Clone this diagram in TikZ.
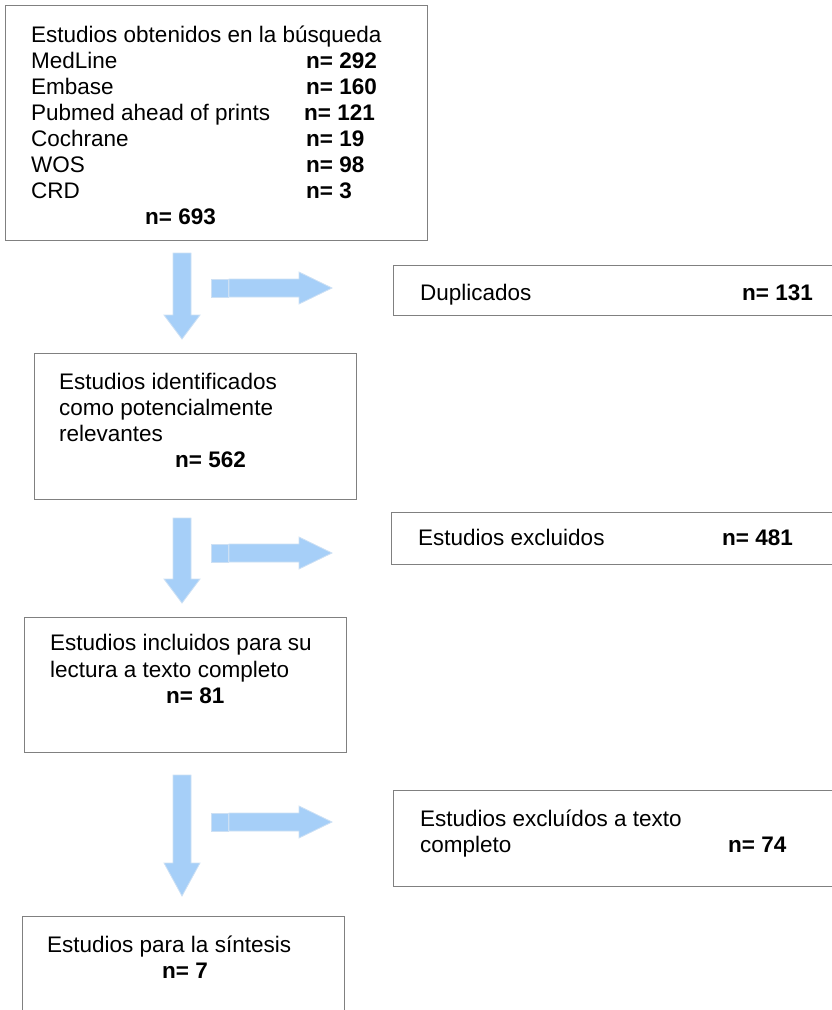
\documentclass[tikz,border=0pt]{standalone}
\usepackage{fontspec}
\setmainfont{Liberation Sans}

\definecolor{boxgray}{RGB}{128,128,128}
\definecolor{arrowblue}{RGB}{166,207,248}
\definecolor{arrowedge}{RGB}{205,224,244}

\newcommand\textstack[1]{\begin{tabular}[t]{@{}l@{}}#1\end{tabular}}
\newcommand\nval[1]{\textbf{n= #1}}

\begin{document}
\begin{tikzpicture}[
  x=1pt,y=-1pt,
  every node/.style={font=\fontsize{22.5}{26}\selectfont,inner sep=0pt},
  flowbox/.style={draw=boxgray,line width=1.4pt,fill=white,anchor=north west},
  txt/.style={anchor=base west},
  blockarrow/.style={fill=arrowblue,draw=arrowedge,line width=0.8pt},
  ]

  \useasboundingbox (0,0) rectangle (832,1010);
  \clip (0,0) rectangle (832,1010);

  % boxes of the main column
  \node [flowbox,minimum width=422,minimum height=235] (search-box) at (5,5) {};
  \node [flowbox,minimum width=322,minimum height=146] (ident-box) at (34,353) {};
  \node [flowbox,minimum width=322,minimum height=135] (fulltext-box) at (24,617) {};
  \node [flowbox,minimum width=322,minimum height=150] (synth-box) at (22,916) {};

  % boxes of excluded studies
  \node [flowbox,minimum width=480,minimum height=50] (dup-box) at (393,265) {};
  \node [flowbox,minimum width=480,minimum height=52] (excl-box) at (391,512) {};
  \node [flowbox,minimum width=480,minimum height=96] (excl-full-box) at (393,790) {};

  \node [txt] (search-text) at (31,42) {%
    \begin{tabular}[t]{@{}p{275pt}@{}l@{}}
      \multicolumn{2}{@{}l@{}}{Estudios obtenidos en la búsqueda}\\
      MedLine & \nval{292}\\
      Embase & \nval{160}\\
      Pubmed ahead of prints & \hspace{-2pt}\nval{121}\\
      Cochrane & \nval{19}\\
      WOS & \nval{98}\\
      CRD & \nval{3}\\
      \multicolumn{2}{@{}l@{}}{\hspace{114pt}\nval{693}}
    \end{tabular}};

  \node [txt] (ident-text) at (59,389) {\textstack{Estudios identificados\\
    como potencialmente\\ relevantes\\ \hspace{116pt}\nval{562}}};
  \node [txt] (fulltext-text) at (50,650) {\textstack{Estudios incluidos para su\\[1pt]
    lectura a texto completo\\ \hspace{116pt}\nval{81}}};
  \node [txt] (synth-text) at (47,952) {\textstack{Estudios para la síntesis\\
    \hspace{115pt}\nval{7}}};

  \node [txt] (dup-text) at (420,300) {Duplicados};
  \node [txt] (dup-n) at (742,300) {\nval{131}};
  \node [txt] (excl-text) at (418,545) {Estudios excluidos};
  \node [txt] (excl-n) at (722,545) {\nval{481}};
  \node [txt] (excl-full-text) at (420,826) {\textstack{Estudios excluídos a texto\\ completo}};
  \node [txt] (excl-full-n) at (728,852) {\nval{74}};

  % block arrows: top, head, tip of the down arrow / centre of the side arrow
  \foreach \top/\head/\tip/\mid in {253/315/339/288,518/579/603/553,775/863/896/822} {
    \draw [blockarrow] (173,\top) -- (191,\top) -- (191,\head) -- (200,\head)
      -- (182,\tip) -- (164,\head) -- (173,\head) -- cycle;
    \draw [blockarrow] (211,\mid-9) rectangle (228,\mid+9);
    \draw [blockarrow] (229,\mid-9) -- (299,\mid-9) -- (299,\mid-16) -- (332,\mid)
      -- (299,\mid+16) -- (299,\mid+9) -- (229,\mid+9) -- cycle;
  }

\end{tikzpicture}
\end{document}
